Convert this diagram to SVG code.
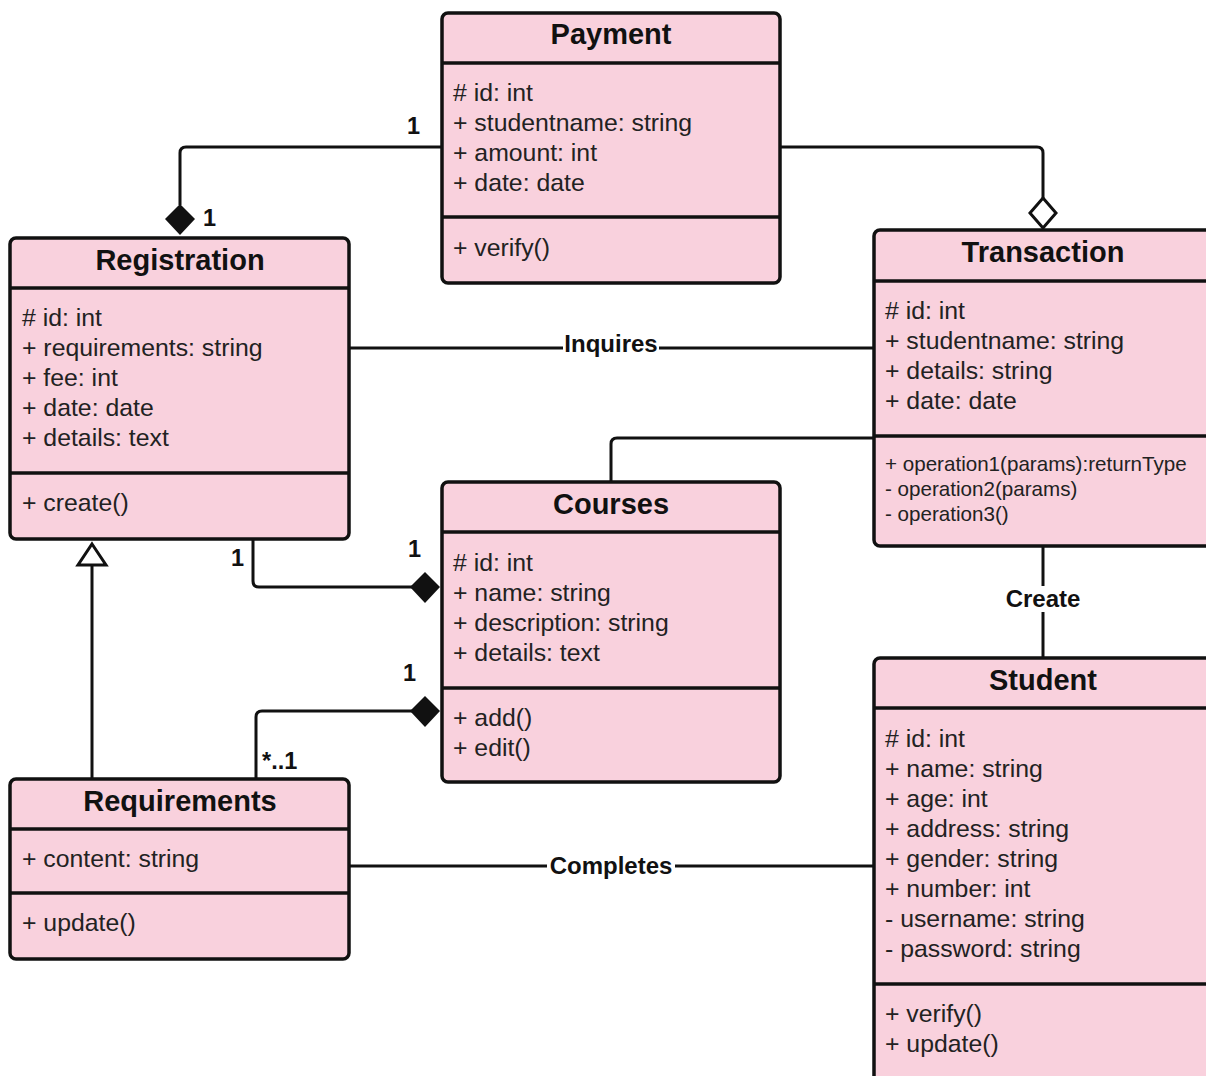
<svg xmlns="http://www.w3.org/2000/svg" width="1206" height="1076" viewBox="0 0 1206 1076">
<style>
.box{fill:#f9d1dd;stroke:#111;stroke-width:3.5}
.div{stroke:#111;stroke-width:3.5}
.t{font-family:"Liberation Sans",Arial,sans-serif;font-size:24.8px;fill:#222}
.s{font-family:"Liberation Sans",Arial,sans-serif;font-size:20.6px;fill:#222}
.h{font-family:"Liberation Sans",Arial,sans-serif;font-size:29px;font-weight:bold;fill:#111;text-anchor:middle}
.l{font-family:"Liberation Sans",Arial,sans-serif;font-size:24px;font-weight:bold;fill:#111}
.m{font-family:"Liberation Sans",Arial,sans-serif;font-size:23.5px;font-weight:bold;fill:#111}
.c{fill:none;stroke:#111;stroke-width:3}
</style>
<rect width="1206" height="1076" fill="#fff"/>
<g id="connectors">
<path class="c" d="M442,147 H186 Q180,147 180,153 V205"/>
<polygon points="180,204 195,219 180,235 165,219" fill="#111"/>
<path class="c" d="M780,147 H1037 Q1043,147 1043,153 V198"/>
<polygon points="1043,198 1056,213 1043,228 1030,213" fill="#fff" stroke="#111" stroke-width="3"/>
<path class="c" d="M349,348 H874"/>
<path class="c" d="M611,482 V444 Q611,438 617,438 H874"/>
<path class="c" d="M1043,546 V658"/>
<path class="c" d="M253,539 V581 Q253,587 259,587 H412"/>
<polygon points="410,587 425,572 440,587 425,603" fill="#111"/>
<path class="c" d="M256,779 V717 Q256,711 262,711 H412"/>
<polygon points="410,711 425,696 440,711 425,727" fill="#111"/>
<path class="c" d="M92,779 V564"/>
<polygon points="92,544 106,565 78,565" fill="#fff" stroke="#111" stroke-width="3"/>
<path class="c" d="M349,866 H874"/>
<rect x="563" y="332" width="96" height="26" fill="#fff"/>
<text class="l" x="611" y="352" text-anchor="middle">Inquires</text>
<rect x="547" y="852" width="128" height="26" fill="#fff"/>
<text class="l" x="611" y="874" text-anchor="middle">Completes</text>
<rect x="1000" y="586" width="86" height="26" fill="#fff"/>
<text class="l" x="1043" y="607" text-anchor="middle">Create</text>
<text class="m" x="407" y="134">1</text>
<text class="m" x="203" y="226">1</text>
<text class="m" x="231" y="566">1</text>
<text class="m" x="408" y="557">1</text>
<text class="m" x="403" y="681">1</text>
<text class="m" x="262" y="769">*..1</text>
</g>
<g id="payment">
<rect class="box" x="442" y="13" width="338" height="270" rx="6"/>
<line class="div" x1="442" y1="63" x2="780" y2="63"/>
<line class="div" x1="442" y1="217" x2="780" y2="217"/>
<text class="h" x="611" y="44">Payment</text>
<text class="t" x="453" y="101"># id: int</text>
<text class="t" x="453" y="131">+ studentname: string</text>
<text class="t" x="453" y="161">+ amount: int</text>
<text class="t" x="453" y="191">+ date: date</text>
<text class="t" x="453" y="256">+ verify()</text>
</g>
<g id="registration">
<rect class="box" x="10" y="238" width="339" height="301" rx="6"/>
<line class="div" x1="10" y1="288" x2="349" y2="288"/>
<line class="div" x1="10" y1="473" x2="349" y2="473"/>
<text class="h" x="180" y="270">Registration</text>
<text class="t" x="22" y="326"># id: int</text>
<text class="t" x="22" y="356">+ requirements: string</text>
<text class="t" x="22" y="386">+ fee: int</text>
<text class="t" x="22" y="416">+ date: date</text>
<text class="t" x="22" y="446">+ details: text</text>
<text class="t" x="22" y="511">+ create()</text>
</g>
<g id="transaction">
<rect class="box" x="874" y="230" width="350" height="316" rx="6"/>
<line class="div" x1="874" y1="281" x2="1224" y2="281"/>
<line class="div" x1="874" y1="436" x2="1224" y2="436"/>
<text class="h" x="1043" y="262">Transaction</text>
<text class="t" x="885" y="319"># id: int</text>
<text class="t" x="885" y="349">+ studentname: string</text>
<text class="t" x="885" y="379">+ details: string</text>
<text class="t" x="885" y="409">+ date: date</text>
<text class="s" x="885" y="471">+ operation1(params):returnType</text>
<text class="s" x="885" y="496">- operation2(params)</text>
<text class="s" x="885" y="521">- operation3()</text>
</g>
<g id="courses">
<rect class="box" x="442" y="482" width="338" height="300" rx="6"/>
<line class="div" x1="442" y1="532" x2="780" y2="532"/>
<line class="div" x1="442" y1="688" x2="780" y2="688"/>
<text class="h" x="611" y="514">Courses</text>
<text class="t" x="453" y="571"># id: int</text>
<text class="t" x="453" y="601">+ name: string</text>
<text class="t" x="453" y="631">+ description: string</text>
<text class="t" x="453" y="661">+ details: text</text>
<text class="t" x="453" y="726">+ add()</text>
<text class="t" x="453" y="756">+ edit()</text>
</g>
<g id="student">
<rect class="box" x="874" y="658" width="350" height="440" rx="6"/>
<line class="div" x1="874" y1="708" x2="1224" y2="708"/>
<line class="div" x1="874" y1="984" x2="1224" y2="984"/>
<text class="h" x="1043" y="690">Student</text>
<text class="t" x="885" y="747"># id: int</text>
<text class="t" x="885" y="777">+ name: string</text>
<text class="t" x="885" y="807">+ age: int</text>
<text class="t" x="885" y="837">+ address: string</text>
<text class="t" x="885" y="867">+ gender: string</text>
<text class="t" x="885" y="897">+ number: int</text>
<text class="t" x="885" y="927">- username: string</text>
<text class="t" x="885" y="957">- password: string</text>
<text class="t" x="885" y="1022">+ verify()</text>
<text class="t" x="885" y="1052">+ update()</text>
</g>
<g id="requirements">
<rect class="box" x="10" y="779" width="339" height="180" rx="6"/>
<line class="div" x1="10" y1="829" x2="349" y2="829"/>
<line class="div" x1="10" y1="893" x2="349" y2="893"/>
<text class="h" x="180" y="811">Requirements</text>
<text class="t" x="22" y="867">+ content: string</text>
<text class="t" x="22" y="931">+ update()</text>
</g>
</svg>
